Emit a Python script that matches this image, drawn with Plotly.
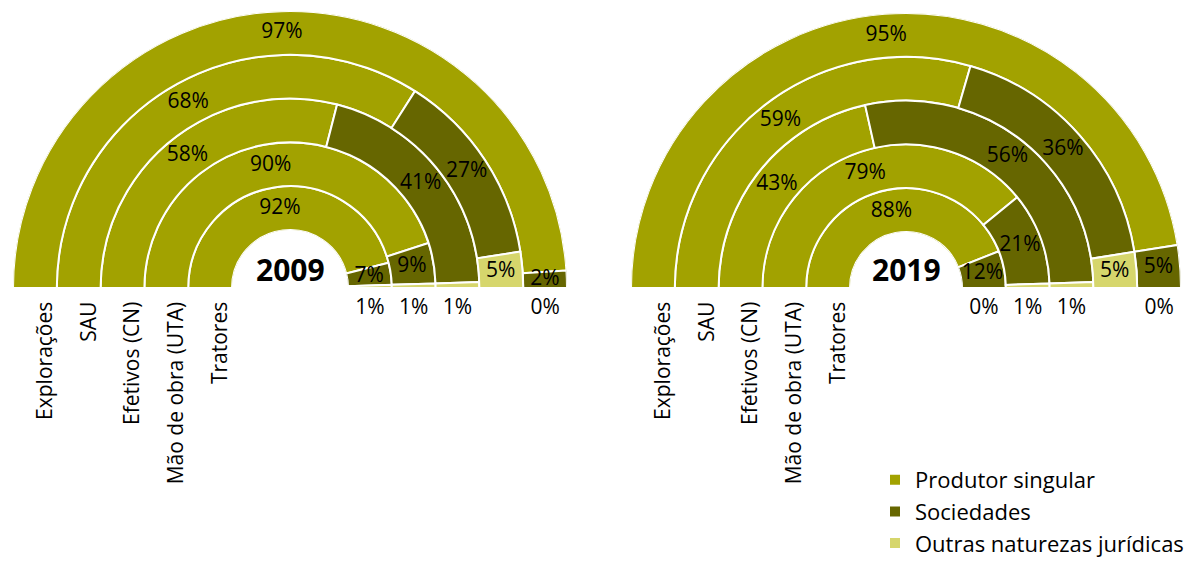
import plotly.graph_objects as go

# Rings are listed from the innermost to the outermost
rings = ["Tratores", "Mão de obra (UTA)", "Efetivos (CN)", "SAU", "Explorações"]
categories = ["Produtor singular", "Sociedades", "Outras naturezas jurídicas"]
years = ["2009", "2019"]

# Shares (%) per ring, inner -> outer
singular_2009 = [92, 90, 58, 68, 97]
sociedades_2009 = [7, 9, 41, 27, 2]
outras_2009 = [1, 1, 1, 5, 0]

singular_2019 = [88, 79, 43, 59, 95]
sociedades_2019 = [12, 21, 56, 36, 5]
outras_2019 = [0, 1, 1, 5, 0]

shares = {
    "2009": [singular_2009, sociedades_2009, outras_2009],
    "2019": [singular_2019, sociedades_2019, outras_2019],
}

COLORS = ["#A2A200", "#666600", "#D6D66C"]
FONT = "Open Sans"
W, H = 1198, 562

# Half-donut geometry in pixels: centre x, baseline y, outer radius, hole radius
GEOM = {
    "2009": dict(cx=290, cy=288, R=277, hole=58),
    "2019": dict(cx=906, cy=288, R=275, hole=56),
}

fig = go.Figure()
annotations = []
layout_polars = {}

for k, year in enumerate(years):
    g = GEOM[year]
    polar_id = "polar" if k == 0 else f"polar{k + 1}"
    n = len(rings)

    # angular layout of every segment (0° = left end, clockwise to 180° = right end)
    totals = [sum(shares[year][c][i] for c in range(3)) for i in range(n)]
    starts = [[0.0] * n for _ in range(3)]
    spans = [[0.0] * n for _ in range(3)]
    for i in range(n):
        acc = 0.0
        for c in range(3):
            v = shares[year][c][i]
            span = v / totals[i] * 180.0
            starts[c][i] = acc
            spans[c][i] = span
            acc += span

    for c, cat in enumerate(categories):
        fig.add_trace(go.Barpolar(
            r=[1] * n,
            base=list(range(n)),
            theta=[starts[c][i] + spans[c][i] / 2 for i in range(n)],
            width=spans[c],
            marker=dict(color=COLORS[c], line=dict(color="white", width=2)),
            name=cat,
            legendgroup=cat,
            showlegend=(k == 0),
            subplot=polar_id,
            hoverinfo="skip",
        ))

    # percentage labels: inside the segment, or under the baseline for tiny shares
    in_theta, in_r, in_txt = [], [], []
    out_theta, out_r, out_txt = [], [], []
    for c in range(3):
        for i in range(n):
            v = shares[year][c][i]
            if v >= 2:
                in_theta.append(starts[c][i] + spans[c][i] / 2)
                in_r.append(i + 0.5)
                in_txt.append(f"{v}%")
            else:
                out_theta.append(180)
                out_r.append(i + 0.5)
                out_txt.append(f"{v}%")
    fig.add_trace(go.Scatterpolar(
        r=in_r, theta=in_theta, text=in_txt, mode="text",
        textfont=dict(family=FONT, size=21, color="black"),
        subplot=polar_id, showlegend=False, hoverinfo="skip", cliponaxis=False,
    ))
    fig.add_trace(go.Scatterpolar(
        r=out_r, theta=out_theta, text=out_txt, mode="markers+text",
        marker=dict(size=14, color="rgba(0,0,0,0)"),
        textposition="bottom center",
        textfont=dict(family=FONT, size=21, color="black"),
        subplot=polar_id, showlegend=False, hoverinfo="skip", cliponaxis=False,
    ))

    cx, cy, R, hole = g["cx"], g["cy"], g["R"], g["hole"]
    layout_polars[polar_id] = dict(
        domain=dict(x=[(cx - R) / W, (cx + R) / W], y=[(H - cy) / H, (H - cy + R) / H]),
        sector=[0, 180],
        hole=hole / R,
        bgcolor="rgba(0,0,0,0)",
        radialaxis=dict(range=[0, n], visible=False, showgrid=False),
        angularaxis=dict(direction="clockwise", rotation=180, visible=False,
                         showgrid=False),
    )

    # year in the centre of the hole
    annotations.append(dict(
        x=cx / W, y=1 - 269 / H, xref="paper", yref="paper",
        text=f"<b>{year}</b>", showarrow=False,
        font=dict(family=FONT, size=30, color="black"),
        xanchor="center", yanchor="middle",
    ))

    # ring names under the left end of each ring
    ring_w = (R - hole) / n
    for i, name in enumerate(rings):
        x_px = cx - (hole + ring_w * (i + 0.5)) + 9
        annotations.append(dict(
            x=x_px / W, y=1 - 300 / H, xref="paper", yref="paper",
            text=name, showarrow=False, textangle=-90,
            font=dict(family=FONT, size=21, color="black"),
            xanchor="center", yanchor="top",
        ))

fig.update_layout(
    width=W, height=H,
    margin=dict(l=0, r=0, t=0, b=0, autoexpand=False),
    paper_bgcolor="white",
    plot_bgcolor="white",
    annotations=annotations,
    legend=dict(
        x=875 / W, y=1 - 459 / H, xanchor="left", yanchor="top",
        font=dict(family=FONT, size=22, color="black"),
        tracegroupgap=13, traceorder="normal",
        itemwidth=30, bgcolor="rgba(0,0,0,0)",
    ),
    **layout_polars,
)

fig.write_html("out.html")
